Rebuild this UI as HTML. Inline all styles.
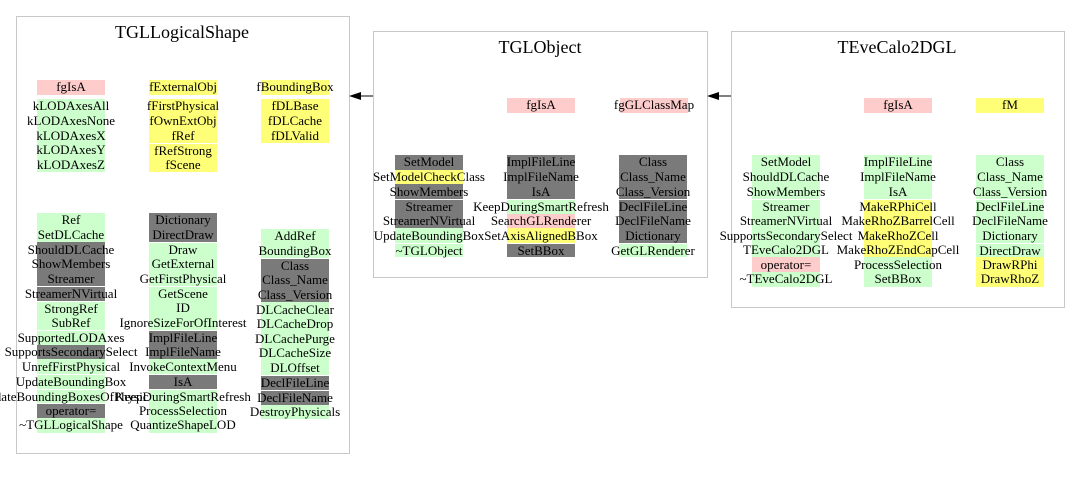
<!DOCTYPE html>
<html><head><meta charset="utf-8"><style>
body{margin:0;width:1080px;height:480px;background:#fff;position:relative;overflow:hidden;font-family:"Liberation Serif",serif;}
.box{position:absolute;border:1px solid #c8c8c8;box-sizing:border-box;}
.t{position:absolute;font-size:18px;white-space:nowrap;transform:translateX(-50%);}
.c{position:absolute;width:68px;}
.c div{height:14.65px;display:flex;justify-content:center;align-items:center;white-space:nowrap;font-size:13px;line-height:14px;box-sizing:border-box;}
.g{background:#ccffcc}.k{background:#7a7a7a}.p{background:#ffcccc}.y{background:#ffff77}.w{background:transparent}
.c div.s{border-top:1px solid #fff}
</style></head><body>
<div class="box" style="left:16px;top:16px;width:334px;height:438px"></div>
<div class="t" style="left:182px;top:22px">TGLLogicalShape</div>
<div class="box" style="left:373px;top:31px;width:335px;height:247px"></div>
<div class="t" style="left:540px;top:37px">TGLObject</div>
<div class="box" style="left:731px;top:31px;width:334px;height:277px"></div>
<div class="t" style="left:897px;top:37px">TEveCalo2DGL</div>

<svg style="position:absolute;left:0;top:0" width="1080" height="480">
<line x1="360" y1="96" x2="373" y2="96" stroke="#000"/>
<polygon points="349,96 361,92 361,100" fill="#000"/>
<line x1="718" y1="96" x2="731" y2="96" stroke="#000"/>
<polygon points="707,96 719,92 719,100" fill="#000"/>
</svg>

<div class="c" style="left:37px;top:80px"><div class="p">fgIsA</div></div>
<div class="c" style="left:37px;top:99px"><div class="g">kLODAxesAll</div><div class="g">kLODAxesNone</div><div class="g">kLODAxesX</div><div class="g">kLODAxesY</div><div class="g">kLODAxesZ</div></div>
<div class="c" style="left:149px;top:80px"><div class="y">fExternalObj</div></div>
<div class="c" style="left:149px;top:99px"><div class="y">fFirstPhysical</div><div class="y">fOwnExtObj</div><div class="y">fRef</div><div class="y s">fRefStrong</div><div class="y">fScene</div></div>
<div class="c" style="left:261px;top:80px"><div class="y">fBoundingBox</div></div>
<div class="c" style="left:261px;top:99px"><div class="y">fDLBase</div><div class="y">fDLCache</div><div class="y">fDLValid</div></div>

<div class="c" style="left:37px;top:213px"><div class="g">Ref</div><div class="g">SetDLCache</div><div class="k">ShouldDLCache</div><div class="k">ShowMembers</div><div class="k">Streamer</div><div class="k s">StreamerNVirtual</div><div class="g s">StrongRef</div><div class="g">SubRef</div><div class="g s">SupportedLODAxes</div><div class="k">SupportsSecondarySelect</div><div class="g">UnrefFirstPhysical</div><div class="g s">UpdateBoundingBox</div><div class="g s">UpdateBoundingBoxesOfPhysicals</div><div class="k s">operator=</div><div class="g">~TGLLogicalShape</div></div>
<div class="c" style="left:149px;top:213px"><div class="k">Dictionary</div><div class="k">DirectDraw</div><div class="g s">Draw</div><div class="g">GetExternal</div><div class="g">GetFirstPhysical</div><div class="g s">GetScene</div><div class="g">ID</div><div class="g">IgnoreSizeForOfInterest</div><div class="k s">ImplFileLine</div><div class="k">ImplFileName</div><div class="g">InvokeContextMenu</div><div class="k s">IsA</div><div class="g s">KeepDuringSmartRefresh</div><div class="g">ProcessSelection</div><div class="g">QuantizeShapeLOD</div></div>
<div class="c" style="left:261px;top:229px"><div class="g">AddRef</div><div class="g">BoundingBox</div><div class="k s">Class</div><div class="k">Class_Name</div><div class="k">Class_Version</div><div class="g">DLCacheClear</div><div class="g">DLCacheDrop</div><div class="g">DLCachePurge</div><div class="g">DLCacheSize</div><div class="g">DLOffset</div><div class="k s">DeclFileLine</div><div class="k s">DeclFileName</div><div class="g">DestroyPhysicals</div></div>

<div class="c" style="left:507px;top:98px"><div class="p">fgIsA</div></div>
<div class="c" style="left:620px;top:98px"><div class="p">fgGLClassMap</div></div>
<div class="c" style="left:395px;top:155px"><div class="k">SetModel</div><div class="y">SetModelCheckClass</div><div class="k">ShowMembers</div><div class="k s">Streamer</div><div class="k">StreamerNVirtual</div><div class="g">UpdateBoundingBox</div><div class="g s">~TGLObject</div></div>
<div class="c" style="left:507px;top:155px"><div class="k">ImplFileLine</div><div class="k">ImplFileName</div><div class="k">IsA</div><div class="g s">KeepDuringSmartRefresh</div><div class="p">SearchGLRenderer</div><div class="y">SetAxisAlignedBBox</div><div class="k s">SetBBox</div></div>
<div class="c" style="left:619px;top:155px"><div class="k">Class</div><div class="k">Class_Name</div><div class="k">Class_Version</div><div class="k s">DeclFileLine</div><div class="k">DeclFileName</div><div class="k">Dictionary</div><div class="g s">GetGLRenderer</div></div>

<div class="c" style="left:864px;top:98px"><div class="p">fgIsA</div></div>
<div class="c" style="left:976px;top:98px"><div class="y">fM</div></div>
<div class="c" style="left:752px;top:155px"><div class="g">SetModel</div><div class="g">ShouldDLCache</div><div class="g">ShowMembers</div><div class="g s">Streamer</div><div class="g">StreamerNVirtual</div><div class="g">SupportsSecondarySelect</div><div class="g">TEveCalo2DGL</div><div class="p">operator=</div><div class="g">~TEveCalo2DGL</div></div>
<div class="c" style="left:864px;top:155px"><div class="g">ImplFileLine</div><div class="g">ImplFileName</div><div class="g">IsA</div><div class="y s">MakeRPhiCell</div><div class="y">MakeRhoZBarrelCell</div><div class="y">MakeRhoZCell</div><div class="y">MakeRhoZEndCapCell</div><div class="g">ProcessSelection</div><div class="g">SetBBox</div></div>
<div class="c" style="left:976px;top:155px"><div class="g">Class</div><div class="g">Class_Name</div><div class="g">Class_Version</div><div class="g s">DeclFileLine</div><div class="g">DeclFileName</div><div class="g">Dictionary</div><div class="g s">DirectDraw</div><div class="y">DrawRPhi</div><div class="y">DrawRhoZ</div></div>
</body></html>
